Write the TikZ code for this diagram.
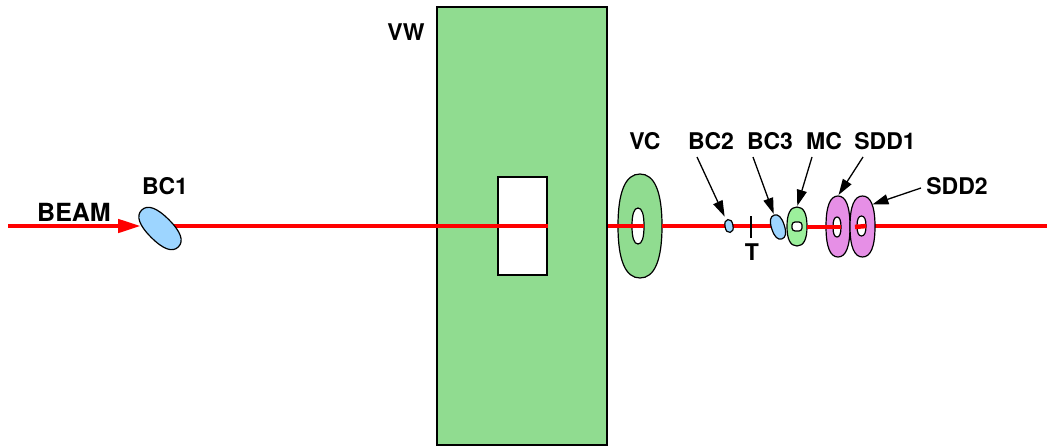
\documentclass[tikz,border=0pt]{standalone}
\usepackage{fontspec}
\setsansfont{TeX Gyre Heros}
\usetikzlibrary{arrows.meta,shapes.geometric}
\definecolor{vwgreen}{HTML}{90DC90}
\definecolor{mcgreen}{HTML}{9CF09C}
\definecolor{bcblue}{HTML}{9DD5FF}
\definecolor{sddpink}{HTML}{E68FE6}
\definecolor{beamred}{HTML}{FF0000}
\tikzset{
	lbl/.style = {font = \fontsize{23}{23}\sffamily\bfseries, inner sep = 0pt},
	wall/.style = {draw = black, line width = 1.2pt, inner sep = 0pt},
	beam/.style = {draw = beamred, line width = 4.5pt},
	pointer/.style = {-{Triangle[length = 16pt, width = 10pt]}, line width = 1.3pt, shorten > = 1pt}
}
% name, centre, half width, half height, angle, fill
\newcommand{\detector}[6]{
	\begin{scope} [shift = {(#2)}, rotate = #5]
		\draw [fill = #6, line width = 1.2pt] (-#3,0) .. controls (-#3,-0.66*#4) and (-0.66*#3,-#4) .. (0,-#4)
			.. controls (0.66*#3,-#4) and (#3,-0.66*#4) .. (#3,0)
			.. controls (#3,0.66*#4) and (0.66*#3,#4) .. (0,#4)
			.. controls (-0.66*#3,#4) and (-#3,0.66*#4) .. (-#3,0) -- cycle;
	\end{scope}
	\node [ellipse, inner sep = 0pt, minimum width = 2*#3 pt, minimum height = 2*#4 pt, rotate = #5] (#1) at (#2) {};
}
\begin{document}
\begin{tikzpicture} [x = 1pt, y = -1pt]
	\useasboundingbox (0,0) rectangle (1047,447);
	% wall and its window
	\node [wall, fill = vwgreen, minimum width = 170pt, minimum height = 438pt] (vw) at (522,226) {};
	\node [wall, fill = white, minimum width = 49pt, minimum height = 98pt] (window) at (522.5,226) {};
	\detector{vc}{640,226}{22}{52}{0}{vwgreen}
	\detector{vchole}{638,226}{6}{18}{0}{white}
	% beam line
	\coordinate (start) at (8,226);
	\coordinate (tip) at (141,226);
	\coordinate (bc1out) at (170,226);
	\coordinate (bc3in) at (775,226);
	\coordinate (mcout) at (807,227);
	\coordinate (sdd2in) at (855,227);
	\coordinate (sdd2out) at (875,226);
	\coordinate (end) at (1047,226);
	\draw [beam] (bc1out) -- (vw.west) -- (window.east);
	\draw [beam] (vw.east) -- (vchole.east);
	\draw [beam] (vc.east) -- (bc3in);
	\draw [beam] (sdd2out) -- (end);
	\draw [beam, -{Triangle[length = 23pt, width = 13pt]}] (start) -- (tip);
	% counters
	\detector{bc1}{160,228.5}{12.5}{26}{45}{bcblue}
	\detector{bc2}{729,226}{4}{6.5}{10}{bcblue}
	\detector{bc3}{778,227}{6.5}{12.5}{18}{bcblue}
	\detector{mc}{797,226.5}{10}{19.5}{0}{mcgreen}
	\node [wall, fill = white, rounded corners = 3pt, minimum width = 10pt, minimum height = 9pt] (mchole) at (797,226.5) {};
	\detector{sdd1}{838,226.5}{12}{30.5}{0}{sddpink}
	\detector{sdd1hole}{837,227}{4}{10}{0}{white}
	\draw [beam] (mcout) -- (sdd1hole.east);
	\detector{sdd2}{862.5,226.5}{12.5}{30.5}{0}{sddpink}
	\detector{sdd2hole}{861.5,226}{4.5}{10}{0}{white}
	\draw [beam] (sdd2in) -- (sdd2hole.east);
	\coordinate (ttop) at (751,216);
	\coordinate (tbot) at (751,238);
	\draw [line width = 1.1pt] (ttop) -- (tbot);
	% labels
	\node [lbl, font = \fontsize{25}{25}\sffamily\bfseries] (beamlbl) at (74,212) {BEAM};
	\node [lbl] (bc1lbl) at (165,186) {BC1};
	\node [lbl] (vwlbl) at (406,32) {VW};
	\node [lbl] (vclbl) at (645,141) {VC};
	\node [lbl] (bc2lbl) at (711,141) {BC2};
	\node [lbl] (bc3lbl) at (770,141) {BC3};
	\node [lbl] (mclbl) at (824,141) {MC};
	\node [lbl] (sdd1lbl) at (885,141) {SDD1};
	\node [lbl] (sdd2lbl) at (957,186) {SDD2};
	\node [lbl] (tlbl) at (752,252) {T};
	% pointers
	\coordinate (bc2from) at (697,157);
	\coordinate (bc3from) at (753,157);
	\coordinate (mcfrom) at (812,157);
	\coordinate (sdd1from) at (863,157);
	\coordinate (sdd2from) at (921,188);
	\draw [pointer, shorten > = 4pt] (bc2from) -- (bc2);
	\draw [pointer] (bc3from) -- (bc3.north);
	\draw [pointer] (mcfrom) -- (mc.north);
	\draw [pointer] (sdd1from) -- (sdd1.north);
	\draw [pointer] (sdd2from) -- (sdd2.north east);
\end{tikzpicture}
\end{document}
